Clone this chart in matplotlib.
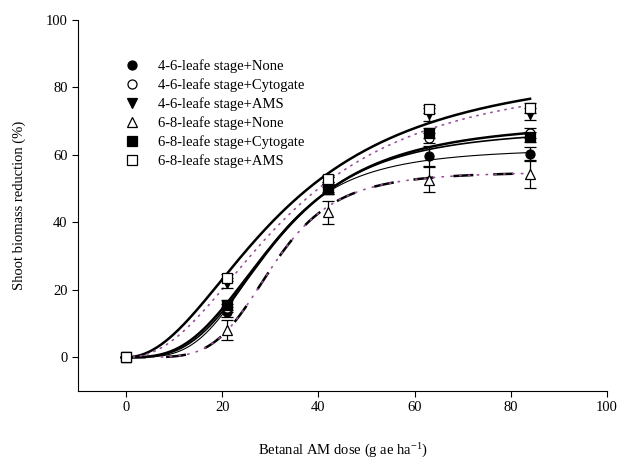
import numpy as np
import matplotlib
matplotlib.use("Agg")
import matplotlib.pyplot as plt
from matplotlib.lines import Line2D

plt.rcParams["font.family"] = ["Liberation Serif", "DejaVu Serif"]
plt.rcParams["mathtext.fontset"] = "custom"
plt.rcParams["mathtext.rm"] = "Liberation Serif"
plt.rcParams["mathtext.it"] = "Liberation Serif:italic"

# dose (g ae/ha)
dose = [0, 21, 42, 63, 84]

# observed shoot biomass reduction (%) and standard errors
y46_none = [0, 13.5, 50.0, 59.7, 60.4]
se46_none = [0, 1.5, 1.5, 3.0, 2.0]
y46_cyto = [0, 14.5, 50.5, 65.0, 66.5]
se46_cyto = [0, 1.2, 1.5, 1.5, 1.5]
y46_ams = [0, 22.0, 52.0, 72.0, 72.2]
se46_ams = [0, 1.5, 1.5, 2.0, 1.8]
y68_none = [0, 8.2, 43.0, 52.7, 54.2]
se68_none = [0, 3.0, 3.4, 3.7, 4.0]
y68_cyto = [0, 15.5, 49.8, 66.5, 65.2]
se68_cyto = [0, 1.5, 1.5, 1.5, 1.5]
y68_ams = [0, 23.6, 53.0, 73.6, 73.8]
se68_ams = [0, 1.0, 1.0, 1.2, 1.5]

# fitted log-logistic parameters: upper limit d, ED50 e, slope b
fit_d = [62, 68, 88, 55, 70, 85]
fit_e = [29.1, 31.0, 33.1, 30.7, 31.4, 34.0]
fit_b = [3.63, 3.2, 2.05, 4.7, 3.0, 2.2]

labels = [
    "4-6-leafe stage+None",
    "4-6-leafe stage+Cytogate",
    "4-6-leafe stage+AMS",
    "6-8-leafe stage+None",
    "6-8-leafe stage+Cytogate",
    "6-8-leafe stage+AMS",
]


def loglogistic(x, d, e, b):
    x = np.asarray(x, dtype=float)
    out = np.zeros_like(x)
    pos = x > 0
    out[pos] = d / (1 + np.exp(-b * (np.log(x[pos]) - np.log(e))))
    return out


fig = plt.figure(figsize=(6.17, 4.61), dpi=100)
ax = fig.add_axes([0.1264, 0.1518, 0.8574, 0.8048])

xx = np.linspace(0, 84, 300)

# fitted curves
ax.plot(xx, loglogistic(xx, fit_d[0], fit_e[0], fit_b[0]), color="black", lw=0.8, zorder=2)
ax.plot(xx, loglogistic(xx, fit_d[1], fit_e[1], fit_b[1]), color="black", lw=1.2, zorder=2)
ax.plot(xx, loglogistic(xx, fit_d[2], fit_e[2], fit_b[2]), color="black", lw=1.8, zorder=2)
c68n = loglogistic(xx, fit_d[3], fit_e[3], fit_b[3])
ax.plot(xx, c68n, color="black", lw=1.8, dashes=(8, 8), zorder=2)
ax.plot(xx, c68n, color="#9b4f9b", lw=1.2, dashes=(0.8, 4.5), dash_capstyle="round", zorder=2)
ax.plot(xx, loglogistic(xx, fit_d[4], fit_e[4], fit_b[4]), color="black", lw=1.8, zorder=2)
ax.plot(xx, loglogistic(xx, fit_d[5], fit_e[5], fit_b[5]), color="#9b4f9b", lw=1.2,
        dashes=(0.8, 3.5), dash_capstyle="round", zorder=2)

# observed points with error bars
series = [
    (y46_none, se46_none, "o", "black"),
    (y46_cyto, se46_cyto, "o", "white"),
    (y46_ams, se46_ams, "v", "black"),
    (y68_none, se68_none, "^", "white"),
    (y68_cyto, se68_cyto, "s", "black"),
    (y68_ams, se68_ams, "s", "white"),
]
for vals, err, m, fc in series:
    ax.errorbar(dose, vals, yerr=err, fmt=m, ms=6.5, mfc=fc, mec="black", mew=0.9,
                ecolor="black", elinewidth=0.9, capsize=4, capthick=0.9, zorder=3)

# legend with marker-only entries
handles = [Line2D([], [], linestyle="none", marker=m, ms=6.5, mfc=fc, mec="black", mew=0.9)
           for _, _, m, fc in series]
ax.legend(handles, labels, loc="upper left", bbox_to_anchor=(0.078, 0.911), frameon=False,
          fontsize=10.5, handlelength=1.0, handletextpad=1.25, labelspacing=0.36,
          borderaxespad=0)

ax.set_xlim(-10, 100)
ax.set_ylim(-10, 100)
ax.set_xticks([0, 20, 40, 60, 80, 100])
ax.set_yticks([0, 20, 40, 60, 80, 100])
ax.spines["top"].set_visible(False)
ax.spines["right"].set_visible(False)
ax.tick_params(direction="out", length=4, labelsize=10.5)

ax.set_xlabel("Betanal AM dose (g ae ha$^{-1}$)", fontsize=10.5, labelpad=20)
ax.set_ylabel("Shoot biomass reduction (%)", fontsize=10.5, labelpad=14)

fig.savefig("out.png", dpi=100)
